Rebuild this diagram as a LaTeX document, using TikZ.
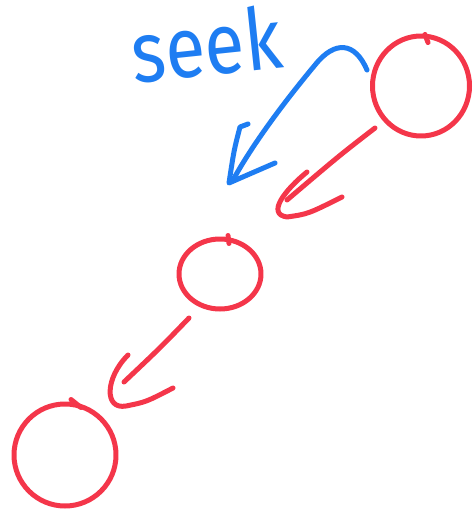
\documentclass[tikz,border=0pt]{standalone}
\usepackage{fontspec}
\setsansfont{Fira Sans}
\usetikzlibrary{shapes.geometric}
\definecolor{Pen}{HTML}{1E7DF2}
\definecolor{Ink}{HTML}{F4364A}
\tikzset{
  stroke/.style={line width=5pt,line cap=round,line join=round},
  bluestroke/.style={stroke,draw=Pen},
  redstroke/.style={stroke,draw=Ink},
  ring/.style={ellipse,redstroke,inner sep=0pt},
  word/.style={text=Pen,font=\sffamily\fontsize{86}{86}\selectfont,inner sep=0pt}
}
\begin{document}
\begin{tikzpicture}[x=1pt,y=-1pt]
\useasboundingbox (0,0) rectangle (472,511);
% label
\node[word,rotate=6,xscale=0.85] (seek) at (206,44) {seek};
% circles
\node[ring,minimum width=97pt,minimum height=100pt] (top) at (421,86) {};
\node[ring,minimum width=82pt,minimum height=70pt] (mid) at (220,274) {};
\node[ring,minimum width=102pt,minimum height=102pt] (low) at (65,455) {};
\draw[redstroke] (top.north)++(4,1) -- ++(3,8);
\draw[redstroke] (mid.north)++(8,-1) -- ++(1,8);
\draw[redstroke] (low.north)++(6,-2) -- ++(10,8);
% seek arrow
\coordinate (b0) at (367,70);
\coordinate (b1) at (233,180);
\draw[bluestroke] (b0) .. controls (355,42) and (335,40) .. (315,65) .. controls (290,95) and (255,140) .. (b1);
\draw[bluestroke] (248,124) -- (240,127) .. controls (234,150) .. (229,183) .. controls (245,176) .. (275,163);
% top to mid
\coordinate (r0) at (375,128);
\coordinate (r1) at (287,200);
\draw[redstroke] (r0) .. controls (340,155) .. (r1);
\draw[redstroke] (307,172) .. controls (285,190) and (266,214) .. (287,217) .. controls (308,214) .. (342,197);
% mid to low
\coordinate (s0) at (189,318);
\coordinate (s1) at (124,382);
\draw[redstroke] (s0) .. controls (160,348) .. (s1);
\draw[redstroke] (128,355) .. controls (105,378) and (104,410) .. (126,406) .. controls (146,402) .. (173,388);
\end{tikzpicture}
\end{document}
